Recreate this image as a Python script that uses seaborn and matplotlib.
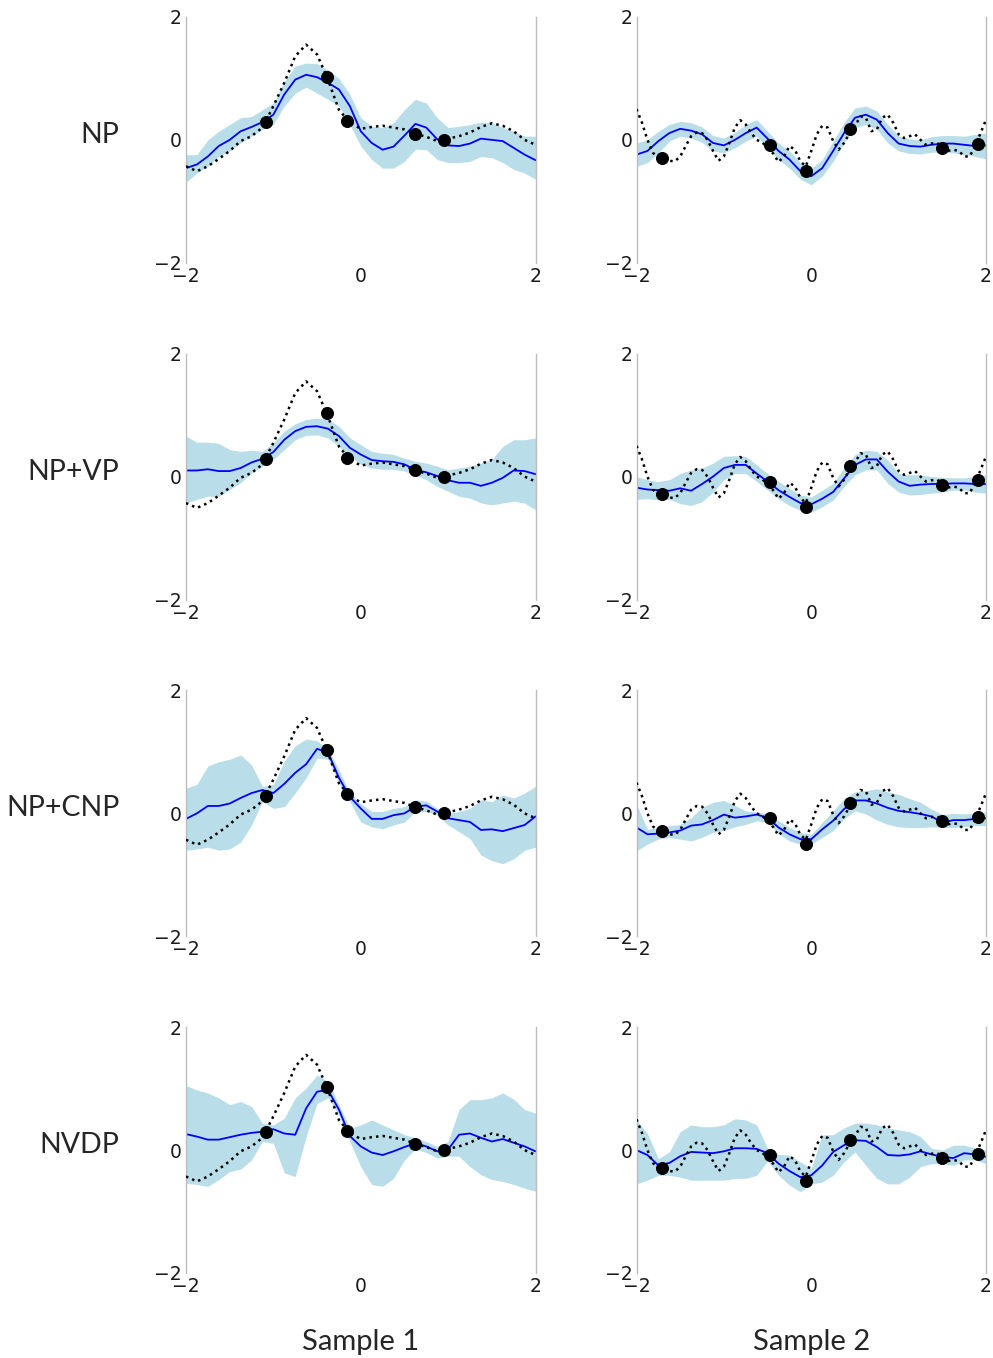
import numpy as np
import matplotlib
matplotlib.use("Agg")
import matplotlib.pyplot as plt
import seaborn as sns

# sampling grids the values below were read on
x_grid = np.linspace(-2, 2, 33)
x_fine = np.linspace(-2, 2, 65)

row_labels = ["NP", "NP+VP", "NP+CNP", "NVDP"]
col_labels = ["Sample 1", "Sample 2"]

# ground truth functions
s1_target = [-0.43, -0.51, -0.43, -0.31, -0.18, -0.02, 0.06, 0.20, 0.55, 0.93, 1.36, 1.55, 1.39,
             0.98, 0.49, 0.28, 0.18, 0.21, 0.23, 0.20, 0.17, 0.10, 0.05, -0.02, 0.02, 0.06, 0.12,
             0.21, 0.27, 0.23, 0.14, 0.00, -0.08]
s2_target = [0.50, 0.28, 0.0, -0.21, -0.29, -0.32, -0.34, -0.35, -0.27, -0.10, 0.06, 0.12, 0.11,
             0.0, -0.18, -0.34, -0.27, -0.05, 0.20, 0.32, 0.25, 0.11, 0.0, -0.04, -0.13, -0.22,
             -0.36, -0.27, -0.10, -0.16, -0.35, -0.43, -0.18, 0.09, 0.23, 0.20, -0.02, -0.16, -0.05,
             0.11, 0.23, 0.38, 0.36, 0.14, 0.17, 0.36, 0.41, 0.28, 0.09, 0.03, 0.06, 0.09, 0.0,
             -0.08, -0.06, -0.05, -0.10, -0.18, -0.16, -0.18, -0.27, -0.27, -0.10, 0.11, 0.33]

# context points
s1_ctx_x = [-1.09, -0.39, -0.16, 0.62, 0.95]
s1_ctx_y = [0.29, 1.03, 0.31, 0.10, 0.00]
s2_ctx_x = [-1.71, -0.47, -0.06, 0.44, 1.50, 1.91]
s2_ctx_y = [-0.29, -0.08, -0.50, 0.17, -0.13, -0.06]

# NP
np_s1_mean = [-0.46, -0.40, -0.27, -0.10, 0.0, 0.14, 0.21, 0.29, 0.41, 0.74, 0.98, 1.06, 1.02, 0.93,
              0.82, 0.55, 0.14, -0.05, -0.16, -0.11, 0.07, 0.26, 0.20, 0.01, -0.09, -0.10, -0.06,
              0.02, 0.0, -0.02, -0.13, -0.24, -0.33]
np_s1_lo = [-0.69, -0.54, -0.43, -0.27, -0.18, -0.05, 0.06, 0.17, 0.25, 0.55, 0.76, 0.86, 0.76, 0.66,
            0.55, 0.25, -0.10, -0.32, -0.46, -0.46, -0.35, -0.15, -0.16, -0.32, -0.37, -0.37, -0.35,
            -0.27, -0.29, -0.37, -0.48, -0.54, -0.64]
np_s1_hi = [-0.24, -0.24, 0.0, 0.14, 0.25, 0.36, 0.38, 0.49, 0.60, 0.95, 1.20, 1.25, 1.24, 1.14, 1.00,
            0.74, 0.36, 0.22, 0.20, 0.28, 0.49, 0.66, 0.60, 0.36, 0.20, 0.22, 0.25, 0.29, 0.28, 0.20,
            0.14, 0.06, 0.06]
np_s2_mean = [-0.24, -0.18, -0.02, 0.11, 0.18, 0.15, 0.09, -0.05, -0.09, 0.0, 0.11, 0.20, 0.02, -0.18,
              -0.32, -0.51, -0.59, -0.46, -0.18, 0.11, 0.36, 0.41, 0.33, 0.11, -0.06, -0.10, -0.11,
              -0.08, -0.06, -0.06, -0.08, -0.10, -0.09]
np_s2_lo = [-0.43, -0.37, -0.21, -0.02, 0.06, 0.03, -0.04, -0.18, -0.21, -0.13, -0.02, 0.06, -0.13,
            -0.32, -0.46, -0.64, -0.73, -0.59, -0.35, -0.05, 0.20, 0.25, 0.17, -0.05, -0.18, -0.22,
            -0.23, -0.20, -0.20, -0.21, -0.24, -0.27, -0.31]
np_s2_hi = [-0.05, 0.0, 0.14, 0.25, 0.30, 0.28, 0.21, 0.07, 0.03, 0.12, 0.25, 0.33, 0.14, -0.05, -0.18,
            -0.37, -0.46, -0.32, -0.02, 0.28, 0.52, 0.55, 0.47, 0.25, 0.06, 0.02, 0.0, 0.05, 0.07,
            0.07, 0.06, 0.09, 0.11]

# NP+VP
vp_s1_mean = [0.10, 0.10, 0.12, 0.09, 0.09, 0.14, 0.23, 0.29, 0.40, 0.60, 0.74, 0.81, 0.82, 0.78,
              0.66, 0.47, 0.36, 0.27, 0.25, 0.24, 0.20, 0.11, 0.07, 0.01, -0.06, -0.10, -0.10,
              -0.15, -0.10, -0.02, 0.10, 0.09, 0.04]
vp_s1_lo = [-0.43, -0.37, -0.32, -0.32, -0.21, -0.10, 0.06, 0.17, 0.28, 0.44, 0.60, 0.67, 0.68, 0.63,
            0.49, 0.33, 0.20, 0.14, 0.12, 0.12, 0.09, 0.02, -0.05, -0.16, -0.24, -0.32, -0.35,
            -0.43, -0.46, -0.43, -0.40, -0.43, -0.54]
vp_s1_hi = [0.66, 0.56, 0.56, 0.54, 0.44, 0.41, 0.43, 0.41, 0.55, 0.74, 0.86, 0.93, 0.95, 0.93, 0.82,
            0.63, 0.52, 0.41, 0.38, 0.36, 0.30, 0.25, 0.22, 0.17, 0.11, 0.14, 0.17, 0.22, 0.28,
            0.49, 0.60, 0.60, 0.63]
vp_s2_mean = [-0.18, -0.21, -0.22, -0.23, -0.19, -0.23, -0.12, 0.0, 0.14, 0.19, 0.19, 0.05, -0.08,
              -0.22, -0.33, -0.43, -0.45, -0.36, -0.25, -0.03, 0.19, 0.28, 0.28, 0.08, -0.08, -0.15,
              -0.13, -0.12, -0.12, -0.11, -0.11, -0.12, -0.12]
vp_s2_lo = [-0.37, -0.36, -0.38, -0.37, -0.44, -0.47, -0.41, -0.25, -0.05, 0.05, 0.05, -0.08, -0.22,
            -0.36, -0.47, -0.55, -0.58, -0.49, -0.38, -0.16, 0.03, 0.11, 0.11, -0.11, -0.25, -0.30,
            -0.29, -0.27, -0.25, -0.22, -0.22, -0.25, -0.27]
vp_s2_hi = [0.0, -0.05, -0.08, -0.05, 0.05, 0.11, 0.14, 0.22, 0.33, 0.34, 0.33, 0.19, 0.05, -0.08,
            -0.19, -0.30, -0.33, -0.22, -0.11, 0.14, 0.36, 0.43, 0.41, 0.27, 0.05, 0.03, 0.03, 0.0,
            -0.01, -0.02, -0.02, 0.0, 0.03]

# NP+CNP
cnp_s1_mean = [-0.09, 0.0, 0.12, 0.12, 0.16, 0.25, 0.33, 0.38, 0.33, 0.48, 0.66, 0.80, 1.05, 0.99,
               0.58, 0.27, 0.08, -0.09, -0.09, -0.03, 0.0, 0.11, 0.13, 0.03, -0.08, -0.11, -0.14,
               -0.27, -0.26, -0.29, -0.24, -0.19, -0.05]
cnp_s1_lo = [-0.60, -0.58, -0.55, -0.60, -0.58, -0.47, -0.19, 0.19, 0.08, 0.11, 0.33, 0.58, 0.90,
             0.88, 0.49, 0.19, -0.14, -0.22, -0.25, -0.19, -0.14, 0.03, 0.03, -0.03, -0.19, -0.30,
             -0.41, -0.68, -0.77, -0.82, -0.74, -0.60, -0.55]
cnp_s1_hi = [0.41, 0.47, 0.77, 0.84, 0.88, 0.95, 0.79, 0.44, 0.47, 0.85, 1.10, 1.21, 1.18, 1.04, 0.71,
             0.33, 0.16, 0.03, 0.03, 0.08, 0.11, 0.22, 0.20, 0.08, 0.0, 0.03, 0.08, 0.22, 0.19, 0.30,
             0.25, 0.33, 0.44]
cnp_s2_mean = [-0.23, -0.34, -0.33, -0.31, -0.28, -0.20, -0.18, -0.11, -0.02, -0.07, -0.05, -0.02,
               -0.07, -0.23, -0.34, -0.42, -0.42, -0.26, -0.12, 0.07, 0.21, 0.21, 0.16, 0.09, 0.04,
               0.02, -0.01, -0.05, -0.15, -0.11, -0.11, -0.09, -0.08]
cnp_s2_lo = [-0.61, -0.50, -0.42, -0.39, -0.42, -0.45, -0.39, -0.31, -0.28, -0.22, -0.18, -0.12,
             -0.15, -0.33, -0.45, -0.50, -0.50, -0.39, -0.28, -0.09, 0.04, -0.01, -0.11, -0.18,
             -0.22, -0.23, -0.23, -0.22, -0.23, -0.23, -0.22, -0.20, -0.20]
cnp_s2_hi = [0.15, -0.26, -0.23, -0.20, -0.18, -0.07, 0.10, 0.18, 0.21, 0.13, 0.04, 0.02, -0.01,
             -0.12, -0.23, -0.31, -0.34, -0.15, 0.04, 0.24, 0.35, 0.37, 0.40, 0.35, 0.31, 0.24,
             0.18, 0.07, -0.02, 0.0, -0.01, 0.0, 0.02]

# NVDP
nvdp_s1_mean = [0.26, 0.22, 0.17, 0.17, 0.21, 0.25, 0.28, 0.30, 0.34, 0.27, 0.25, 0.68, 0.95, 0.98,
                0.66, 0.23, 0.06, -0.04, -0.08, -0.02, 0.05, 0.11, 0.06, -0.02, 0.01, 0.25, 0.27,
                0.20, 0.14, 0.18, 0.12, 0.06, -0.02]
nvdp_s1_lo = [-0.54, -0.56, -0.59, -0.48, -0.35, -0.31, -0.16, 0.14, 0.11, -0.37, -0.43, 0.22, 0.76,
              0.85, 0.57, 0.14, -0.27, -0.56, -0.59, -0.46, -0.16, 0.02, -0.04, -0.13, -0.10,
              -0.10, -0.27, -0.40, -0.48, -0.51, -0.56, -0.62, -0.67]
nvdp_s1_hi = [1.05, 0.98, 0.93, 0.85, 0.74, 0.79, 0.71, 0.44, 0.41, 0.52, 0.85, 1.01, 1.22, 1.12,
              0.74, 0.36, 0.41, 0.49, 0.41, 0.33, 0.25, 0.20, 0.14, 0.06, 0.14, 0.66, 0.82, 0.82,
              0.85, 0.93, 0.83, 0.66, 0.60]
nvdp_s2_mean = [0.0, -0.08, -0.25, -0.21, -0.10, -0.03, -0.04, -0.05, -0.02, 0.03, 0.03, 0.02, -0.05,
                -0.22, -0.34, -0.44, -0.41, -0.25, -0.03, 0.08, 0.16, 0.15, 0.05, -0.08, -0.09,
                -0.07, -0.02, -0.07, -0.11, -0.13, -0.05, -0.07, -0.11]
nvdp_s2_lo = [-0.55, -0.49, -0.41, -0.41, -0.44, -0.49, -0.49, -0.49, -0.49, -0.46, -0.46, -0.41,
              -0.18, -0.41, -0.57, -0.68, -0.55, -0.52, -0.41, -0.19, -0.03, -0.25, -0.46, -0.55,
              -0.55, -0.44, -0.27, -0.22, -0.22, -0.25, -0.16, -0.16, -0.22]
nvdp_s2_hi = [0.49, 0.27, -0.14, -0.03, 0.30, 0.41, 0.38, 0.38, 0.41, 0.51, 0.49, 0.41, 0.03, -0.07,
              -0.08, -0.19, -0.30, 0.25, 0.25, 0.36, 0.44, 0.44, 0.41, 0.36, 0.33, 0.30, 0.22, 0.03,
              0.0, 0.08, 0.08, 0.03, 0.0]

rows = [
    [(np_s1_mean, np_s1_lo, np_s1_hi), (np_s2_mean, np_s2_lo, np_s2_hi)],
    [(vp_s1_mean, vp_s1_lo, vp_s1_hi), (vp_s2_mean, vp_s2_lo, vp_s2_hi)],
    [(cnp_s1_mean, cnp_s1_lo, cnp_s1_hi), (cnp_s2_mean, cnp_s2_lo, cnp_s2_hi)],
    [(nvdp_s1_mean, nvdp_s1_lo, nvdp_s1_hi), (nvdp_s2_mean, nvdp_s2_lo, nvdp_s2_hi)],
]
samples = [
    (x_grid, s1_target, s1_ctx_x, s1_ctx_y),
    (x_fine, s2_target, s2_ctx_x, s2_ctx_y),
]

sns.set_style("white")
plt.rcParams["font.family"] = ["DejaVu Sans"]
label_font = ["Lato", "DejaVu Sans"]

fig, axes = plt.subplots(4, 2, figsize=(9.93, 13.58), dpi=100)
fig.subplots_adjust(left=0.1873, right=0.993, top=0.9875, bottom=0.0626,
                    wspace=0.289, hspace=0.37)

for i, row in enumerate(rows):
    for j, (mean, lo, hi) in enumerate(row):
        ax = axes[i, j]
        tx, ty, cx, cy = samples[j]
        ax.fill_between(x_grid, lo, hi, color="lightblue", alpha=0.85, linewidth=0, zorder=1)
        sns.lineplot(x=x_grid, y=mean, color="blue", linewidth=1.3, ax=ax, zorder=2)
        sns.lineplot(x=tx, y=ty, color="black", linestyle=":", linewidth=1.8, ax=ax, zorder=3)
        sns.scatterplot(x=cx, y=cy, color="black", s=75, edgecolor="black", ax=ax, zorder=4)
        ax.set_xlim(-2, 2)
        ax.set_ylim(-2, 2)
        ax.set_xticks([-2, 0, 2])
        ax.set_yticks([-2, 0, 2])
        ax.tick_params(length=0, labelsize=13.5, pad=3, colors="#1a1a1a")
        for side in ["top", "bottom"]:
            ax.spines[side].set_visible(False)
        for side in ["left", "right"]:
            ax.spines[side].set_color("#bdbdbd")
            ax.spines[side].set_linewidth(1.0)
        if j == 0:
            ax.text(-0.19, 0.52, row_labels[i], transform=ax.transAxes, ha="right",
                    va="center", fontsize=20.5, family=label_font)
        if i == len(rows) - 1:
            ax.text(0.5, -0.28, col_labels[j], transform=ax.transAxes, ha="center",
                    va="center", fontsize=21, family=label_font)

fig.savefig("out.png", dpi=100)
